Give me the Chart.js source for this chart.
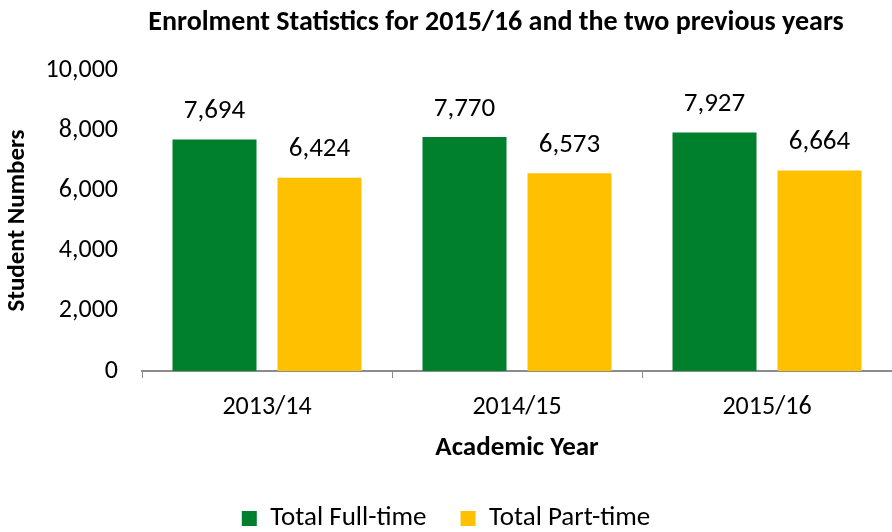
<!DOCTYPE html>
<html lang="en">
<head>
    <meta charset="UTF-8">
    <title>Enrolment Statistics</title>
    <script src="https://cdn.jsdelivr.net/npm/chart.js"></script>
    <style>
        body { margin: 0; background: #fff; }
    </style>
</head>
<body>
    <canvas id="chart" width="892" height="532"></canvas>
    <script>
        const years = ['2013/14', '2014/15', '2015/16'];
        const fullTime = [7694, 7770, 7927];
        const partTime = [6424, 6573, 6664];
        const yTicks = [0, 2000, 4000, 6000, 8000, 10000];
        const chartTitle = 'Enrolment Statistics for 2015/16 and the two previous years';

        const FONT = "Carlito, Calibri, Lato, sans-serif";

        // title sits a bit left of centre in the original, so draw it by hand
        const topTitle = {
            id: 'topTitle',
            afterDraw(chart) {
                const ctx = chart.ctx;
                ctx.save();
                ctx.font = 'bold 28px ' + FONT;
                ctx.fillStyle = '#000';
                ctx.textAlign = 'center';
                ctx.textBaseline = 'middle';
                ctx.fillText(chartTitle, 496, 23);
                ctx.restore();
            }
        };

        // values written above each bar
        const barLabels = {
            id: 'barLabels',
            afterDatasetsDraw(chart) {
                const ctx = chart.ctx;
                ctx.save();
                ctx.font = '27px ' + FONT;
                ctx.fillStyle = '#000';
                ctx.textAlign = 'center';
                ctx.textBaseline = 'middle';
                chart.data.datasets.forEach((ds, i) => {
                    chart.getDatasetMeta(i).data.forEach((bar, j) => {
                        ctx.fillText(ds.data[j].toLocaleString('en-US'), bar.x, bar.y - 28);
                    });
                });
                ctx.restore();
            }
        };

        const ctx = document.getElementById('chart').getContext('2d');
        new Chart(ctx, {
            type: 'bar',
            data: {
                labels: years,
                datasets: [{
                    label: 'Total Full-time',
                    data: fullTime,
                    backgroundColor: '#007F2D',
                    categoryPercentage: 0.84,
                    barPercentage: 0.8
                }, {
                    label: 'Total Part-time',
                    data: partTime,
                    backgroundColor: '#FFC000',
                    categoryPercentage: 0.84,
                    barPercentage: 0.8
                }]
            },
            options: {
                responsive: false,
                animation: false,
                layout: { padding: { left: 0, right: 0, top: 70, bottom: -10 } },
                plugins: {
                    title: { display: false },
                    legend: {
                        position: 'bottom',
                        labels: {
                            color: '#000',
                            font: { family: FONT, size: 27 },
                            boxWidth: 15,
                            boxHeight: 15,
                            padding: 34
                        }
                    },
                    tooltip: { enabled: false }
                },
                scales: {
                    x: {
                        afterFit(scale) { scale.height = 100; },
                        grid: {
                            display: true,
                            drawOnChartArea: false,
                            color: '#8c8c8c',
                            tickLength: 7,
                            offset: true
                        },
                        border: { display: true, color: '#8c8c8c', width: 2 },
                        ticks: {
                            color: '#000',
                            font: { family: FONT, size: 26 },
                            padding: 14
                        },
                        title: {
                            display: true,
                            text: 'Academic Year',
                            color: '#000',
                            font: { family: FONT, size: 27, weight: 'bold' },
                            padding: { top: 8, bottom: 7 }
                        }
                    },
                    y: {
                        min: 0,
                        max: 10000,
                        afterBuildTicks(scale) {
                            scale.ticks = yTicks.map(v => ({ value: v }));
                        },
                        afterFit(scale) { scale.width = 142; },
                        grid: { display: false, drawTicks: false },
                        border: { display: false },
                        ticks: {
                            color: '#000',
                            font: { family: FONT, size: 26 },
                            padding: 24,
                            callback: v => v.toLocaleString('en-US')
                        },
                        title: {
                            display: true,
                            text: 'Student Numbers',
                            color: '#000',
                            font: { family: FONT, size: 25, weight: 'bold' },
                            padding: { top: 3, bottom: 6 }
                        }
                    }
                }
            },
            plugins: [barLabels, topTitle]
        });
    </script>
</body>
</html>
